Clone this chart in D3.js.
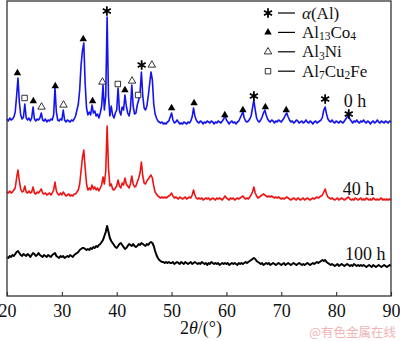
<!DOCTYPE html>
<html><head><meta charset="utf-8">
<script src="https://cdn.jsdelivr.net/npm/d3@7"></script>
<style>body{margin:0;background:#fff}svg{display:block}</style>
</head><body><svg id="c" width="400" height="341"></svg>
<script>
// sampling grid (2θ, degrees)
const twoTheta = [
20,20.25,20.5,20.75,21,21.25,21.5,21.75,22,22.25,22.5,22.75,23,23.25,23.5,23.75,24,24.25,24.5,24.75,
25,25.25,25.5,25.75,26,26.25,26.5,26.75,27,27.25,27.5,27.75,28,28.25,28.5,28.75,29,29.25,29.5,29.75,
30,30.25,30.5,30.75,31,31.25,31.5,31.75,32,32.25,32.5,32.75,33,33.25,33.5,33.75,34,34.25,34.5,34.75,
35,35.25,35.5,35.75,36,36.25,36.5,36.75,37,37.25,37.5,37.75,38,38.25,38.5,38.75,39,39.25,39.5,39.75,
40,40.25,40.5,40.75,41,41.25,41.5,41.75,42,42.25,42.5,42.75,43,43.25,43.5,43.75,44,44.25,44.5,44.75,
45,45.25,45.5,45.75,46,46.25,46.5,46.75,47,47.25,47.5,47.75,48,48.25,48.5,48.75,49,49.25,49.5,49.75,
50,50.25,50.5,50.75,51,51.25,51.5,51.75,52,52.25,52.5,52.75,53,53.25,53.5,53.75,54,54.25,54.5,54.75,
55,55.25,55.5,55.75,56,56.25,56.5,56.75,57,57.25,57.5,57.75,58,58.25,58.5,58.75,59,59.25,59.5,59.75,
60,60.25,60.5,60.75,61,61.25,61.5,61.75,62,62.25,62.5,62.75,63,63.25,63.5,63.75,64,64.25,64.5,64.75,
65,65.25,65.5,65.75,66,66.25,66.5,66.75,67,67.25,67.5,67.75,68,68.25,68.5,68.75,69,69.25,69.5,69.75,
70,70.25,70.5,70.75,71,71.25,71.5,71.75,72,72.25,72.5,72.75,73,73.25,73.5,73.75,74,74.25,74.5,74.75,
75,75.25,75.5,75.75,76,76.25,76.5,76.75,77,77.25,77.5,77.75,78,78.25,78.5,78.75,79,79.25,79.5,79.75,
80,80.25,80.5,80.75,81,81.25,81.5,81.75,82,82.25,82.5,82.75,83,83.25,83.5,83.75,84,84.25,84.5,84.75,
85,85.25,85.5,85.75,86,86.25,86.5,86.75,87,87.25,87.5,87.75,88,88.25,88.5,88.75,89,89.25,89.5,89.75,
90];

// intensities (arbitrary units, stacked offsets as in the figure)
const int0h = [
177,175,178,176,177,179,184,200,218,194,181,177,179,192,178,176,178,175,178,189,
177,175,177,176,178,183,176,175,177,174,176,175,177,176,181,208,184,176,175,177,
176,186,176,174,176,175,174,176,175,177,180,186,192,206,231,245,253,212,188,181,
184,181,191,183,185,180,182,178,183,190,211,186,200,279,200,180,190,181,178,183,
186,208,185,181,189,186,201,190,183,180,187,211,190,182,183,191,196,203,224,200,
188,186,190,200,212,224,216,192,182,178,175,174,173,174,172,173,172,174,175,179,
183,176,173,174,176,174,172,173,172,174,173,172,174,173,175,179,188,180,176,174,
173,175,174,172,174,173,175,174,173,175,174,172,174,173,175,174,173,175,177,181,
176,174,172,174,175,173,174,172,174,175,178,181,184,178,175,174,175,177,180,188,
196,186,178,175,174,176,179,183,186,181,177,175,174,176,175,173,175,174,176,175,
174,176,178,181,183,179,176,174,175,173,174,176,175,173,174,175,173,174,176,174,
173,175,174,172,174,175,173,174,175,176,179,186,189,182,177,175,174,176,174,173,
175,174,173,175,174,173,175,177,179,181,177,175,173,175,174,176,174,173,175,174,
176,174,173,175,174,172,174,175,173,174,176,174,173,175,174,173,175,174,173,175,
174];
const int40h = [
104,103,105,103,104,106,108,118,126,115,107,104,105,110,104,103,105,103,104,109,
103,102,104,103,105,107,103,102,103,101,102,103,101,103,106,114,105,102,101,103,
101,104,102,100,101,102,100,101,100,102,102,104,106,112,125,138,146,128,112,106,
108,106,111,107,109,106,108,105,108,111,119,112,125,170,128,110,112,107,106,108,
110,116,110,108,113,111,118,112,110,108,112,120,112,109,110,114,118,123,134,120,
113,112,115,117,119,121,118,110,104,102,100,99,98,99,98,99,98,99,100,101,
103,100,98,99,98,97,99,98,97,98,99,97,98,99,98,101,106,101,98,97,
98,97,98,96,97,98,97,98,96,97,98,97,96,98,97,98,97,96,98,100,
98,97,96,98,97,98,96,97,98,97,98,99,100,98,97,98,97,99,101,104,
109,103,100,98,99,100,101,102,101,100,99,100,99,100,99,98,99,98,99,98,
97,98,97,98,99,98,97,96,97,98,97,96,98,97,96,97,98,96,97,98,
97,96,97,98,97,98,99,98,99,100,101,104,107,102,99,98,97,98,97,96,
97,98,96,97,98,97,96,97,98,99,97,96,97,96,98,97,96,97,98,96,
97,96,98,97,96,97,96,98,97,96,97,96,97,98,96,97,96,97,96,97,
96];
const int100h = [
39,38,40,39,41,40,42,44,45,43,41,40,42,41,40,42,41,39,41,43,
42,40,41,43,41,40,39,41,40,39,41,40,39,41,42,43,40,39,38,40,
39,40,38,39,40,39,41,40,39,41,42,43,44,46,47,48,48,47,46,47,
46,48,47,49,48,50,49,51,52,54,56,60,64,70,64,58,55,53,51,49,
48,50,52,53,51,49,47,48,50,52,51,50,52,50,49,50,52,51,53,52,
51,50,52,51,53,54,53,50,45,41,38,36,35,34,34,33,34,33,34,33,
33,34,32,33,34,33,32,34,33,32,34,33,32,33,34,32,33,34,33,32,
33,32,34,33,32,33,31,33,32,34,33,32,33,32,33,31,32,33,32,33,
32,33,31,32,33,32,33,32,31,33,32,33,32,33,34,33,34,35,36,37,
38,37,35,34,33,32,33,31,32,33,32,33,31,32,33,32,31,32,33,32,
31,32,33,31,32,33,32,31,32,33,32,31,32,33,32,31,32,31,32,33,
32,31,32,33,32,33,34,33,34,35,36,35,36,34,33,32,31,32,31,30,
31,32,30,31,32,31,30,31,32,31,30,31,30,32,31,30,31,30,31,30,
31,30,29,30,31,30,29,31,30,29,30,31,30,29,30,31,30,29,30,31,
30];

const seriesNames = ["0 h", "40 h", "100 h"];
const seriesColors = ["#1414ee", "#ee1414", "#000000"];
const labelTheta = [81.4, 81.2, 81.6];
const labelLevel = [189, 101, 36];

// phase markers on the 0 h pattern
const markerTheta = [21.9,23.2,24.8,26.3,28.8,30.3,33.9,35.6,37.4,38.2,40.2,41.5,42.8,43.9,44.55,46.4,50.0,54.1,59.7,63.0,65.0,67.1,70.9,78.0,82.3];
const markerPhase = ["co4","fe","co4","ni","co4","ni","co4","co4","ni","alpha","fe","co4","ni","fe","alpha","ni","co4","co4","co4","co4","alpha","co4","co4","alpha","alpha"];
const markerLevel = [223,198,195,189,210,191,257,195,214,285,212,206,215,201,231,231,188,193,181,186,200,189,186,197,182];

const xTicks = [20, 30, 40, 50, 60, 70, 80, 90];
const legendPhases = ["alpha", "co4", "ni", "fe"];
const legendLabels = [
  [["α", "it"], ["(Al)", ""]],
  [["Al", ""], ["13", "sub"], ["Co", ""], ["4", "sub"]],
  [["Al", ""], ["3", "sub"], ["Ni", ""]],
  [["Al", ""], ["7", "sub"], ["Cu", ""], ["2", "sub"], ["Fe", ""]]
];

const svg = d3.select("#c");
const font = "'Liberation Serif','Times New Roman',serif";
const L = 7, R = 391, T = 1, B = 296;
const x = d3.scaleLinear().domain([20, 90]).range([L, R]);
const y = d3.scaleLinear().domain([0, 295]).range([B, T]);

// curves
const series = [int0h, int40h, int100h];
const line = d3.line().x((d, i) => x(twoTheta[i])).y(d => y(d));
series.forEach((s, k) => {
  svg.append("path").datum(s)
    .attr("d", line)
    .attr("fill", "none")
    .attr("stroke", seriesColors[k])
    .attr("stroke-width", k === 2 ? 2 : 1.6)
    .attr("stroke-linejoin", "round");
  svg.append("text")
    .attr("x", x(labelTheta[k])).attr("y", y(labelLevel[k]))
    .attr("font-family", font).attr("font-size", 18).attr("fill", "#111")
    .text(seriesNames[k]);
});

// marker drawing
function drawMarker(g, phase, cx, cy) {
  if (phase === "alpha") {
    g.append("path").attr("d", d3.symbol(d3.symbolAsterisk, 60)())
      .attr("transform", `translate(${cx},${cy})`)
      .attr("stroke", "#000").attr("stroke-width", 1.8).attr("fill", "none");
  } else if (phase === "co4") {
    g.append("path").attr("d", d3.symbol(d3.symbolTriangle, 24)())
      .attr("transform", `translate(${cx},${cy})`).attr("fill", "#000");
  } else if (phase === "ni") {
    g.append("path").attr("d", d3.symbol(d3.symbolTriangle, 24)())
      .attr("transform", `translate(${cx},${cy})`)
      .attr("fill", "#fff").attr("stroke", "#000").attr("stroke-width", 0.8);
  } else {
    g.append("path").attr("d", d3.symbol(d3.symbolSquare, 30)())
      .attr("transform", `translate(${cx},${cy})`)
      .attr("fill", "#fff").attr("stroke", "#000").attr("stroke-width", 0.8);
  }
}
const mg = svg.append("g");
markerTheta.forEach((t, i) => drawMarker(mg, markerPhase[i], x(t), y(markerLevel[i])));

// legend
const lg = svg.append("g");
legendPhases.forEach((p, i) => {
  const cy = 13 + i * 19.4;
  drawMarker(lg, p, 268, cy);
  lg.append("line").attr("x1", 278).attr("x2", 295).attr("y1", cy).attr("y2", cy)
    .attr("stroke", "#000").attr("stroke-width", 1.2);
  const t = lg.append("text").attr("x", 302).attr("y", cy + 5.5)
    .attr("font-family", font).attr("font-size", 17).attr("fill", "#111");
  let shifted = false;
  legendLabels[i].forEach(([txt, kind]) => {
    const ts = t.append("tspan").text(txt);
    if (kind === "sub") {
      ts.attr("font-size", 11.5).attr("dy", shifted ? 0 : 2.5);
      shifted = true;
    } else {
      if (shifted) { ts.attr("dy", -2.5); shifted = false; }
      if (kind === "it") ts.attr("font-style", "italic");
    }
  });
});

// axis
const ax = svg.append("g").attr("transform", `translate(0,${B})`)
  .call(d3.axisBottom(x).tickValues(xTicks).tickSizeInner(-4).tickSizeOuter(0).tickPadding(8));
ax.attr("font-family", font).attr("font-size", 18);
ax.select(".domain").remove();
ax.selectAll(".tick line").attr("stroke", "#333").attr("stroke-width", 1.1);
ax.selectAll(".tick text").attr("font-family", font).attr("font-size", 18).attr("fill", "#111");

// frame
svg.append("rect").attr("x", L).attr("y", T).attr("width", R - L).attr("height", B - T)
  .attr("fill", "none").attr("stroke", "#333").attr("stroke-width", 1.3);

// axis title
const tt = svg.append("text").attr("x", 201).attr("y", 334).attr("text-anchor", "middle")
  .attr("font-family", font).attr("font-size", 18).attr("fill", "#111");
tt.append("tspan").text("2");
tt.append("tspan").attr("font-style", "italic").text("θ");
tt.append("tspan").text("/(°)");

// watermark
svg.append("text").attr("x", 396).attr("y", 337).attr("text-anchor", "end")
  .attr("font-family", "'Noto Sans CJK SC',sans-serif").attr("font-size", 12.5)
  .attr("fill", "#f0b4b4").text("@有色金属在线");
</script></body></html>
